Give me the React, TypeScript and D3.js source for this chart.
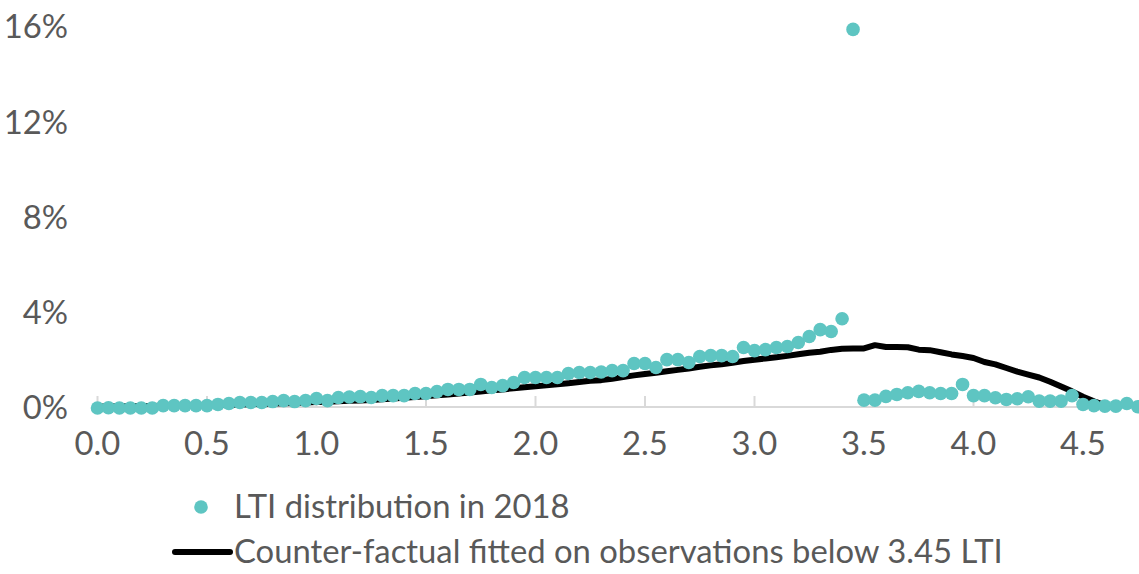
import { useEffect, useRef } from 'react';
import * as d3 from 'd3';

// LTI bins, 0.00 to 4.75 in steps of 0.05
const ltiBins: number[] = d3.range(0, 96).map(i => +(i * 0.05).toFixed(2));

// share of mortgages in each LTI bin, 2018 (%)
const distribution2018: number[] = [
  0.0, 0.01, 0.0, 0.0, 0.0, 0.0, 0.1, 0.1, 0.1, 0.1,
  0.1, 0.15, 0.19, 0.23, 0.23, 0.23, 0.27, 0.31, 0.27, 0.31,
  0.4, 0.31, 0.44, 0.46, 0.48, 0.44, 0.52, 0.52, 0.52, 0.61,
  0.61, 0.69, 0.78, 0.78, 0.78, 0.99, 0.86, 0.94, 1.07, 1.28,
  1.28, 1.28, 1.28, 1.45, 1.49, 1.49, 1.51, 1.57, 1.57, 1.87,
  1.87, 1.7, 2.03, 2.03, 1.91, 2.16, 2.2, 2.2, 2.16, 2.54,
  2.41, 2.45, 2.54, 2.58, 2.75, 3.0, 3.29, 3.21, 3.75, 15.9,
  0.33, 0.33, 0.49, 0.57, 0.64, 0.7, 0.64, 0.61, 0.61, 0.99,
  0.52, 0.52, 0.43, 0.36, 0.39, 0.47, 0.29, 0.29, 0.29, 0.52,
  0.15, 0.1, 0.08, 0.08, 0.19, 0.05,
];

// counter-factual fitted on observations below 3.45 LTI (%)
const counterFactual: number[] = [
  0.06, 0.06, 0.07, 0.07, 0.08, 0.08, 0.09, 0.09, 0.1, 0.11,
  0.12, 0.13, 0.14, 0.15, 0.16, 0.17, 0.19, 0.2, 0.21, 0.23,
  0.25, 0.26, 0.28, 0.3, 0.32, 0.34, 0.37, 0.4, 0.43, 0.46,
  0.49, 0.53, 0.57, 0.61, 0.65, 0.69, 0.74, 0.78, 0.83, 0.87,
  0.91, 0.95, 1.0, 1.04, 1.09, 1.14, 1.17, 1.23, 1.3, 1.37,
  1.43, 1.48, 1.54, 1.6, 1.66, 1.73, 1.79, 1.84, 1.9, 1.97,
  2.03, 2.08, 2.13, 2.19, 2.26, 2.32, 2.36, 2.44, 2.49, 2.5,
  2.5, 2.64, 2.56, 2.56, 2.55, 2.45, 2.43, 2.34, 2.25, 2.18,
  2.1, 1.93, 1.83, 1.68, 1.53, 1.4, 1.28, 1.1, 0.9, 0.7,
  0.47, 0.28, 0.12, 0.03,
];

const yTicks = [0, 4, 8, 12, 16];
const xTicks = [0, 0.5, 1, 1.5, 2, 2.5, 3, 3.5, 4, 4.5];

const dotLabel = 'LTI distribution in 2018';
const lineLabel = 'Counter-factual fitted on observations below 3.45 LTI';

const WIDTH = 1139;
const HEIGHT = 574;
const TEAL = '#5EC5C2';
const TEXT = '#595959';
const FONT = 'Lato, "Noto Sans", sans-serif';
const FONT_SIZE = '32.8px';

const App = () => {
  const svgRef = useRef<SVGSVGElement>(null);

  useEffect(() => {
    if (!svgRef.current) return;
    const svg = d3.select(svgRef.current);
    svg.selectAll('*').remove();

    const x = d3.scaleLinear().domain([0, 4.75]).range([97.5, 1137.75]);
    const y = d3.scaleLinear().domain([0, 16]).range([408, 27]);

    // y labels (no gridlines)
    svg.append('g')
      .selectAll('text')
      .data(yTicks)
      .enter()
      .append('text')
      .attr('x', 68)
      .attr('y', d => y(d))
      .attr('dy', '0.35em')
      .attr('text-anchor', 'end')
      .style('font-family', FONT)
      .style('font-size', FONT_SIZE)
      .style('fill', TEXT)
      .text(d => `${d}%`);

    // x axis line + inner ticks
    svg.append('line')
      .attr('x1', x(0))
      .attr('x2', WIDTH)
      .attr('y1', y(0) - 1)
      .attr('y2', y(0) - 1)
      .attr('stroke', '#d9d9d9')
      .attr('stroke-width', 2);

    svg.append('g')
      .selectAll('line')
      .data(xTicks)
      .enter()
      .append('line')
      .attr('x1', d => x(d))
      .attr('x2', d => x(d))
      .attr('y1', y(0) - 1)
      .attr('y2', y(0) - 12)
      .attr('stroke', '#d9d9d9')
      .attr('stroke-width', 2);

    svg.append('g')
      .selectAll('text')
      .data(xTicks)
      .enter()
      .append('text')
      .attr('x', d => x(d))
      .attr('y', 444)
      .attr('dy', '0.35em')
      .attr('text-anchor', 'middle')
      .style('font-family', FONT)
      .style('font-size', FONT_SIZE)
      .style('fill', TEXT)
      .text(d => d3.format('.1f')(d));

    // counter-factual line, under the dots
    const line = d3.line<number>()
      .x((_, i) => x(ltiBins[i]))
      .y(d => y(d));

    svg.append('path')
      .datum(counterFactual)
      .attr('fill', 'none')
      .attr('stroke', '#000')
      .attr('stroke-width', 6)
      .attr('stroke-linejoin', 'round')
      .attr('stroke-linecap', 'round')
      .attr('d', line);

    svg.append('g')
      .selectAll('circle')
      .data(distribution2018)
      .enter()
      .append('circle')
      .attr('cx', (_, i) => x(ltiBins[i]))
      .attr('cy', d => y(d))
      .attr('r', 6.8)
      .attr('fill', TEAL);

    // legend
    const legend = svg.append('g');
    legend.append('circle')
      .attr('cx', 201)
      .attr('cy', 507)
      .attr('r', 6.8)
      .attr('fill', TEAL);
    legend.append('text')
      .attr('x', 234)
      .attr('y', 507)
      .attr('dy', '0.35em')
      .style('font-family', FONT)
      .style('font-size', FONT_SIZE)
      .style('fill', TEXT)
      .text(dotLabel);

    legend.append('line')
      .attr('x1', 175)
      .attr('x2', 230)
      .attr('y1', 552)
      .attr('y2', 552)
      .attr('stroke', '#000')
      .attr('stroke-width', 6)
      .attr('stroke-linecap', 'round');
    legend.append('text')
      .attr('x', 234)
      .attr('y', 552)
      .attr('dy', '0.35em')
      .style('font-family', FONT)
      .style('font-size', FONT_SIZE)
      .style('fill', TEXT)
      .text(lineLabel);
  }, []);

  return (
    <svg
      ref={svgRef}
      width={WIDTH}
      height={HEIGHT}
      style={{ position: 'absolute', left: 0, top: 0, display: 'block', background: '#fff' }}
    />
  );
};

export default App;
